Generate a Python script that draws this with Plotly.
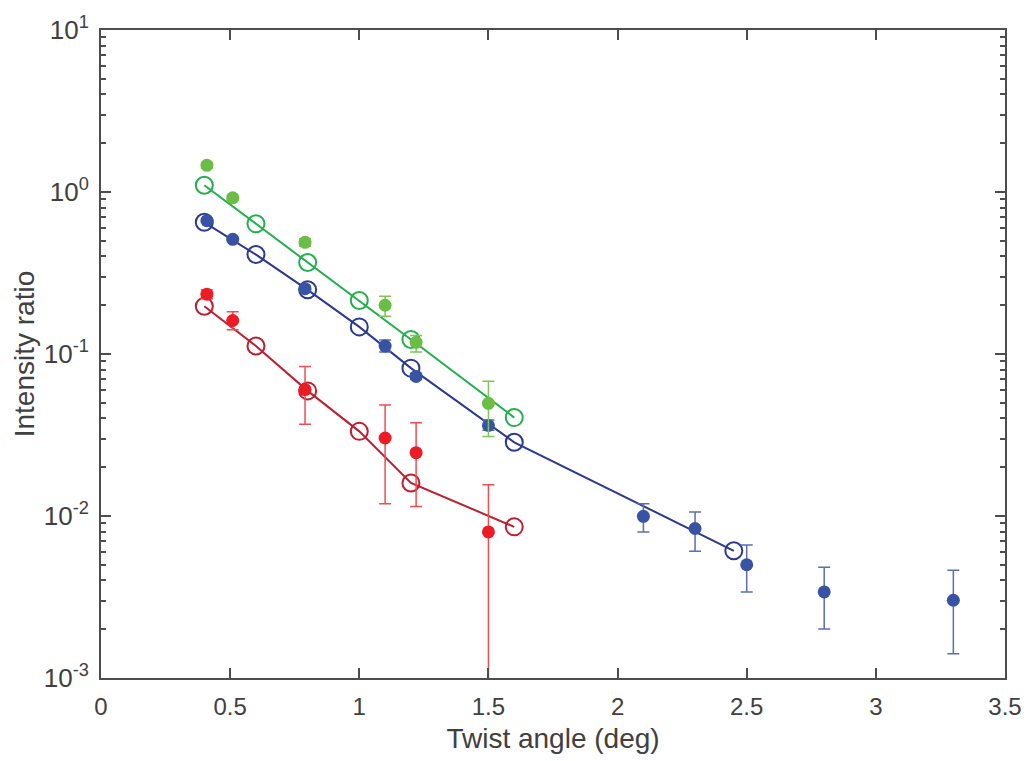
import plotly.graph_objects as go

# ---------------- data ----------------
x_meas_green = [0.41, 0.51, 0.79, 1.10, 1.22, 1.50]
y_meas_green = [1.46, 0.92, 0.489, 0.200, 0.118, 0.0496]
up_meas_green = [1.52, 0.95, 0.515, 0.227, 0.130, 0.0678]
lo_meas_green = [1.40, 0.89, 0.462, 0.171, 0.103, 0.031]

x_meas_blue = [0.41, 0.51, 0.79, 1.10, 1.22, 1.50, 2.10, 2.30, 2.50, 2.80, 3.30]
y_meas_blue = [0.665, 0.51, 0.253, 0.112, 0.0727, 0.0362, 0.00995, 0.00837, 0.0050, 0.0034, 0.00302]
up_meas_blue = [0.68, 0.52, 0.262, 0.122, 0.0760, 0.0392, 0.0119, 0.0106, 0.00663, 0.00482, 0.00462]
lo_meas_blue = [0.65, 0.50, 0.244, 0.103, 0.0695, 0.0338, 0.00796, 0.00606, 0.0034, 0.00201, 0.00141]

x_meas_red = [0.41, 0.51, 0.79, 1.10, 1.22, 1.50]
y_meas_red = [0.234, 0.161, 0.0603, 0.0303, 0.0246, 0.00798]
up_meas_red = [0.249, 0.182, 0.0837, 0.0484, 0.0376, 0.0156]
lo_meas_red = [0.219, 0.141, 0.0369, 0.0119, 0.01146, 0.0001]

x_model_green = [0.4, 0.6, 0.8, 1.0, 1.2, 1.6]
y_model_green = [1.10, 0.636, 0.367, 0.214, 0.123, 0.0405]

x_model_blue = [0.4, 0.6, 0.8, 1.0, 1.2, 1.6, 2.45]
y_model_blue = [0.65, 0.411, 0.249, 0.147, 0.0818, 0.0285, 0.0061]

x_model_red = [0.4, 0.6, 0.8, 1.0, 1.2, 1.6]
y_model_red = [0.197, 0.112, 0.0592, 0.0333, 0.0160, 0.00857]

x_ticks = [0, 0.5, 1, 1.5, 2, 2.5, 3, 3.5]
x_ticktext = ["0", "0.5", "1", "1.5", "2", "2.5", "3", "3.5"]
y_ticks = [1e-3, 1e-2, 1e-1, 1e0, 1e1]
y_ticktext = ["10<sup>-3</sup>", "10<sup>-2</sup>", "10<sup>-1</sup>", "10<sup>0</sup>", "10<sup>1</sup>"]
y_minor = [m * 10.0 ** e for e in (-3, -2, -1, 0) for m in range(2, 10)]

# ---------------- styles ----------------
C_GREEN_F, C_GREEN_L, C_GREEN_E = "#6abd45", "#22b04b", "#7cc65a"
C_BLUE_F, C_BLUE_L, C_BLUE_E = "#3853a4", "#2b3990", "#5a6db5"
C_RED_F, C_RED_L, C_RED_E = "#ed1c24", "#be1e2d", "#ef4d53"


def model_trace(x, y, col):
    return go.Scatter(x=x, y=y, mode="lines+markers",
                      line=dict(color=col, width=2),
                      marker=dict(symbol="circle-open", size=17, color=col,
                                  line=dict(width=2, color=col)),
                      showlegend=False)


def meas_trace(x, y, up, lo, col, ecol):
    return go.Scatter(x=x, y=y, mode="markers",
                      marker=dict(symbol="circle", size=13, color=col),
                      error_y=dict(type="data", symmetric=False,
                                   array=[u - v for u, v in zip(up, y)],
                                   arrayminus=[v - l for v, l in zip(y, lo)],
                                   color=ecol, thickness=1.5, width=6),
                      showlegend=False)


fig = go.Figure()
fig.add_trace(model_trace(x_model_red, y_model_red, C_RED_L))
fig.add_trace(model_trace(x_model_blue, y_model_blue, C_BLUE_L))
fig.add_trace(model_trace(x_model_green, y_model_green, C_GREEN_L))
fig.add_trace(meas_trace(x_meas_red, y_meas_red, up_meas_red, lo_meas_red, C_RED_F, C_RED_E))
fig.add_trace(meas_trace(x_meas_blue, y_meas_blue, up_meas_blue, lo_meas_blue, C_BLUE_F, C_BLUE_E))
fig.add_trace(meas_trace(x_meas_green, y_meas_green, up_meas_green, lo_meas_green, C_GREEN_F, C_GREEN_E))

AX = "#4d4d4d"
FONT = "Liberation Sans, Arial, sans-serif"
TXT = "#404040"

fig.update_layout(
    width=1034, height=761,
    margin=dict(l=101, r=23, t=22, b=83),
    paper_bgcolor="white", plot_bgcolor="white",
    font=dict(family=FONT, color=TXT, size=24),
    xaxis=dict(range=[0, 3.5], tickvals=x_ticks, ticktext=x_ticktext,
               showgrid=False, zeroline=False,
               showline=True, linecolor=AX, linewidth=2, mirror="allticks",
               ticks="inside", ticklen=10, tickwidth=2, tickcolor=AX,
               ticklabelstandoff=6,
               tickfont=dict(size=24, color=TXT),
               title=dict(text="Twist angle (deg)", font=dict(size=28, color=TXT), standoff=10)),
    yaxis=dict(type="log", range=[-3, 1], tickvals=y_ticks, ticktext=y_ticktext,
               showgrid=False, zeroline=False,
               showline=True, linecolor=AX, linewidth=2, mirror="allticks",
               ticks="inside", ticklen=10, tickwidth=2, tickcolor=AX,
               ticklabelstandoff=5,
               minor=dict(tickvals=y_minor, ticks="inside", ticklen=5, tickwidth=2, tickcolor=AX),
               tickfont=dict(size=26, color=TXT),
               title=dict(text="Intensity ratio", font=dict(size=28, color=TXT), standoff=1)),
)

fig.write_html("out.html")
